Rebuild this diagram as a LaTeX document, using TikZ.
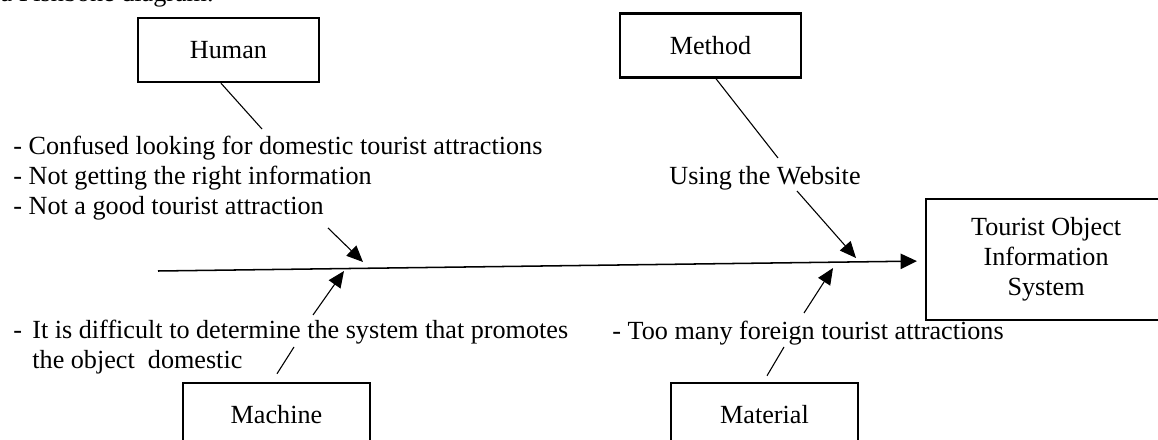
\documentclass[tikz,border=0pt]{standalone}
\usepackage{fontspec}
\setmainfont{Liberation Serif}
\usetikzlibrary{arrows.meta,calc,positioning}

\begin{document}
\begin{tikzpicture}[x=0.4587pt,y=-0.4587pt,
			every node/.style={font=\fontsize{12}{13.8}\selectfont},
			cause node/.style={
				rectangle, draw=black, line width=1.1pt,
				fill=white, text=black, inner sep=0pt,
				minimum width=83pt, minimum height=29.4pt},
			effect node/.style={
				rectangle, draw=black, line width=1.1pt,
				fill=white, text=black, align=center,
				minimum width=120pt, minimum height=55.5pt},
			note node/.style={align=left, inner sep=0pt},
			bone/.style={line width=0.5pt},
			bone arrow/.style={line width=0.5pt,
				-{Triangle[length=7.5pt,width=6.5pt]}},
			spine/.style={line width=0.7pt,
				-{Triangle[length=7.5pt,width=7pt]}}
			]
			\useasboundingbox (0,0) rectangle (1158,440);
			\clip (0,0) rectangle (1158,440);
			\node[anchor=base east, inner sep=0pt] (0) at (214,2)
			{a Fishbone diagram.};
			\node[cause node] (1) at (228.5,50) {Human};
			\node[cause node] (2) at (710.5,45.5) {Method};
			\node[cause node,minimum width=85.8pt] (3) at (276.5,415) {Machine};
			\node[cause node,minimum width=85.8pt] (4) at (764.5,415) {Material};
			\node[effect node,anchor=west] (5) at (925,259.5)
			{\begin{tabular}{@{}c@{\hspace{10pt}}}Tourist Object\\Information\\System\end{tabular}};
			\node[note node,anchor=west] (6) at (13,178)
			{- Confused looking for domestic tourist attractions\\
			- Not getting the right information\\
			- Not a good tourist attraction};
			\node[note node] (7) at (765,178) {Using the Website};
			\node[note node,anchor=west] (8) at (13,347)
			{\makebox[8.7pt][l]{-}It is difficult to determine the system that promotes\\
			\hspace*{8.7pt}the object\ \ domestic};
			\node[note node,anchor=west] (9) at (612,333)
			{- Too many foreign tourist attractions};
			
			% bone ends
			\coordinate (a) at (158,271);
			\coordinate (b1) at (262,129);
			\coordinate (b2) at (328,228);
			\coordinate (b3) at (363,262);
			\coordinate (c1) at (778,158);
			\coordinate (c2) at (797,191);
			\coordinate (c3) at (856,258);
			\coordinate (d1) at (294,347);
			\coordinate (d2) at (313,315);
			\coordinate (d3) at (344,271);
			\coordinate (e1) at (784,347);
			\coordinate (e2) at (804,313);
			\coordinate (e3) at (833,268);
			
			\draw[spine,shorten >=3.7pt] (a) -- (5.west |- 0,261);
			\draw[bone] ($(1.south)+(-7.5,0)$) -- (b1);
			\draw[bone arrow] (b2) -- (b3);
			\draw[bone] ($(2.south)+(5.5,0)$) -- (c1);
			\draw[bone arrow] (c2) -- (c3);
			\draw[bone] ($(3.north)+(0.5,-8)$) -- (d1);
			\draw[bone arrow] (d2) -- (d3);
			\draw[bone] ($(4.north)+(2.5,-6)$) -- (e1);
			\draw[bone arrow] (e2) -- (e3);
		\end{tikzpicture}
\end{document}
